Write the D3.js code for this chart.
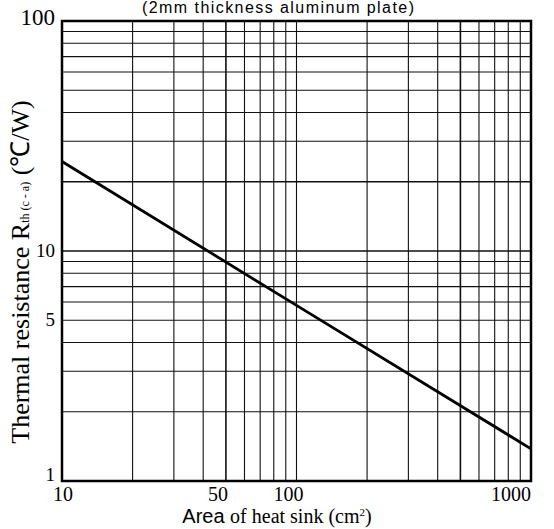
<!DOCTYPE html>
<html><head><meta charset="utf-8">
<script src="https://cdn.jsdelivr.net/npm/d3@7"></script>
<style>body{margin:0;background:#fff}svg{display:block}</style>
</head><body>
<script>
// Data
const areas = [10, 100, 1000];          // cm^2
const resistances = [24.5, 5.8, 1.38];  // °C/W
const xTickLabels = [10, 50, 100, 1000];
const yTickLabels = [1, 5, 10, 100];
const xGrid = [20,30,40,50,60,70,80,90,100,200,300,400,500,600,700,800,900];
const yGrid = [2,3,4,5,6,7,8,9,10,20,30,40,50,60,70,80,90];
const title = "(2mm thickness aluminum plate)";

const W = 554, H = 529;
const L = 62, R = 531, T = 21, B = 481;
const svg = d3.select("body").append("svg").attr("width", W).attr("height", H);
const x = d3.scaleLog().domain([10, 1000]).range([L, R]);
const y = d3.scaleLog().domain([1, 100]).range([B, T]);

// title
svg.append("text").attr("x", 278).attr("y", 13).attr("text-anchor", "middle")
  .attr("font-family", "Liberation Sans, Arial, sans-serif").attr("font-size", 16)
  .attr("textLength", 272).attr("lengthAdjust", "spacing")
  .text(title);

// grid
const g = svg.append("g");
g.selectAll("line.v").data(xGrid).join("line").attr("class","v")
  .attr("x1", d => x(d)).attr("x2", d => x(d)).attr("y1", T).attr("y2", B)
  .attr("stroke", "#111").attr("stroke-width", d => (d===50||d===500) ? 1.6 : 1.1);
g.selectAll("line.h").data(yGrid).join("line").attr("class","h")
  .attr("y1", d => y(d)).attr("y2", d => y(d)).attr("x1", L).attr("x2", R)
  .attr("stroke", "#111").attr("stroke-width", d => (d===10||d===20) ? 1.6 : 1.1);

// frame
svg.append("rect").attr("x", L).attr("y", T).attr("width", R-L).attr("height", B-T)
  .attr("fill", "none").attr("stroke", "#000").attr("stroke-width", 2.5);

// curve
const pts = areas.map((a, i) => [a, resistances[i]]);
svg.append("path").datum(pts)
  .attr("d", d3.line().x(d => x(d[0])).y(d => y(d[1])))
  .attr("fill", "none").attr("stroke", "#000").attr("stroke-width", 2.8);

// y tick labels
const serif = "Liberation Serif, Times New Roman, serif";
svg.selectAll("text.yt").data(yTickLabels).join("text").attr("class","yt")
  .attr("x", L - 7).attr("y", d => y(d) + (d===100 ? 4 : (d===1 ? 0 : 6)))
  .attr("text-anchor", "end").attr("font-family", serif)
  .attr("font-size", d => d===100 ? 23 : 19).text(d => d);

// x tick labels
svg.selectAll("text.xt").data(xTickLabels).join("text").attr("class","xt")
  .attr("x", d => x(d) - (d===10 ? -1 : (d===1000 ? 20 : 8))).attr("y", B + 20)
  .attr("text-anchor", "middle").attr("font-family", serif)
  .attr("font-size", 20).text(d => d);

// x axis title
const xt = svg.append("text").attr("x", 277).attr("y", B + 42).attr("text-anchor", "middle")
  .attr("font-family", serif).attr("font-size", 20);
xt.append("tspan").attr("font-family", "Liberation Sans, Arial, sans-serif").text("Area ");
xt.append("tspan").text("of heat sink (cm");
xt.append("tspan").attr("font-size", 11).attr("dy", -7).text("2");
xt.append("tspan").attr("dy", 7).text(")");

// y axis title
const yt = svg.append("text").attr("transform", "translate(29,272) rotate(-90)")
  .attr("text-anchor", "middle").attr("font-family", serif).attr("font-size", 26);
yt.append("tspan").text("Thermal resistance R");
yt.append("tspan").attr("font-size", 12).text("th (c - a)");
yt.append("tspan").text(" (\u2103/W)");
</script>
</body></html>
